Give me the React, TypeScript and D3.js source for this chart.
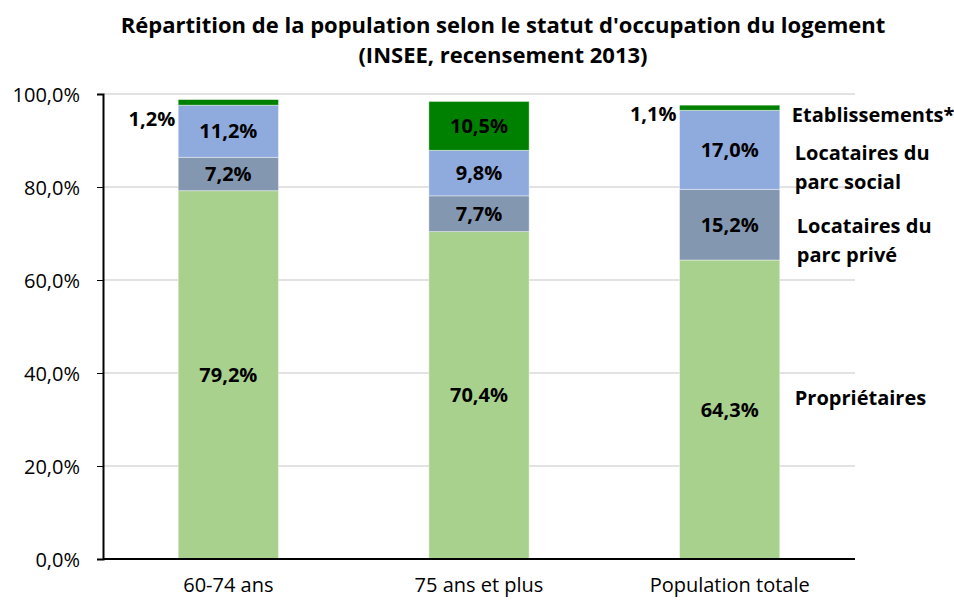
import React, { useEffect, useRef } from "react";
import * as d3 from "d3";

const categories = ["60-74 ans", "75 ans et plus", "Population totale"];
const seriesNames = [
  "Propriétaires",
  "Locataires du parc privé",
  "Locataires du parc social",
  "Etablissements*",
];
const proprietaires = [79.2, 70.4, 64.3];
const locPrive = [7.2, 7.7, 15.2];
const locSocial = [11.2, 9.8, 17.0];
const etablissements = [1.2, 10.5, 1.1];
const yTicks = [0, 20, 40, 60, 80, 100];
const legendLines = [["Propriétaires"], ["Locataires du", "parc privé"], ["Locataires du", "parc social"], ["Etablissements*"]];
const colors = ["#a9d18e", "#8497b0", "#8faadc", "#008000"];

const fmt = (v: number) => v.toFixed(1).replace(".", ",") + "%";

const App = () => {
  const ref = useRef<SVGSVGElement>(null);

  useEffect(() => {
    const svg = d3.select(ref.current);
    svg.selectAll("*").remove();
    const font = "'Open Sans', sans-serif";
    const margin = { left: 103, right: 99, top: 94, bottom: 41 };
    const width = 954, height = 600;

    const x = d3.scaleBand().domain(categories).range([margin.left, width - margin.right]).paddingInner(0.6).paddingOuter(0.3);
    const y = d3.scaleLinear().domain([0, 100]).range([height - margin.bottom, margin.top]);

    // title
    svg.append("text").attr("x", 503).attr("y", 33).attr("text-anchor", "middle")
      .style("font", `bold 22px ${font}`).text("Répartition de la population selon le statut d'occupation du logement");
    svg.append("text").attr("x", 503).attr("y", 63).attr("text-anchor", "middle")
      .style("font", `bold 22px ${font}`).text("(INSEE, recensement 2013)");

    // grid
    svg.append("g").selectAll("line").data(yTicks.filter((t) => t > 0)).join("line")
      .attr("x1", margin.left).attr("x2", width - margin.right)
      .attr("y1", (d) => y(d)).attr("y2", (d) => y(d))
      .attr("stroke", "#d9d9d9").attr("stroke-width", 1.5);

    const rows = categories.map((c, i) => ({
      cat: c,
      vals: [proprietaires[i], locPrive[i], locSocial[i], etablissements[i]],
    }));
    const stacked = d3.stack<any>().keys([0, 1, 2, 3] as any).value((d: any, k: any) => d.vals[k])(rows);

    // small labels sit left of the bar, below its top
    const smallDrop = [26, 20, 16];

    stacked.forEach((layer, si) => {
      svg.append("g").selectAll("rect").data(layer).join("rect")
        .attr("x", (d: any) => x(d.data.cat)!)
        .attr("width", x.bandwidth())
        .attr("y", (d) => y(d[1]))
        .attr("height", (d) => y(d[0]) - y(d[1]))
        .attr("fill", colors[si])
        .attr("stroke", "#ffffff").attr("stroke-opacity", 0.5).attr("stroke-width", 0.8);

      layer.forEach((d: any, ci: number) => {
        const v = d[1] - d[0];
        const small = v < 3;
        svg.append("text")
          .attr("x", small ? x(d.data.cat)! - 3 : x(d.data.cat)! + x.bandwidth() / 2)
          .attr("y", small ? y(d[1]) + smallDrop[ci] : (y(d[0]) + y(d[1])) / 2 + 7)
          .attr("text-anchor", small ? "end" : "middle")
          .style("font", `bold 20px ${font}`).attr("fill", "#000")
          .text(fmt(v));
      });
    });

    // series labels at right (baseline of first line, in data units)
    const last = categories.length - 1;
    const lx = x(categories[last])! + x.bandwidth() + 15;
    const anchors = [33.2, 70.2, 85.9, 93.9];
    const dxs = [0, 2, 0, -3];
    seriesNames.forEach((name, si) => {
      const lines = legendLines[si];
      const t = svg.append("text").attr("data-name", name).style("font", `bold 20px ${font}`).attr("fill", "#000");
      lines.forEach((ln, li) => {
        t.append("tspan").attr("x", lx + dxs[si])
          .attr("y", y(anchors[si]) + li * 29)
          .text(ln);
      });
    });

    // y axis
    const yAxis = svg.append("g").attr("transform", `translate(${margin.left},0)`)
      .call(d3.axisLeft(y).tickValues(yTicks).tickSize(6).tickFormat((d) => fmt(+d)));
    yAxis.select(".domain").attr("stroke", "#000").attr("stroke-width", 2);
    yAxis.selectAll(".tick line").attr("stroke", "#000");
    yAxis.selectAll(".tick text").attr("x", -23).attr("dy", "0.35em").style("font", `20px ${font}`).attr("fill", "#000");

    // x axis
    const xAxis = svg.append("g").attr("transform", `translate(0,${y(0)})`)
      .call(d3.axisBottom(x).tickSize(0).tickSizeOuter(0));
    xAxis.select(".domain").attr("stroke", "#000").attr("stroke-width", 2)
      .attr("d", `M${margin.left},0H${width - margin.right}`);
    xAxis.selectAll(".tick text").attr("y", 33).attr("dy", 0).style("font", `20px ${font}`).attr("fill", "#000");
  }, []);

  return <svg ref={ref} width={954} height={600} style={{ position: "absolute", left: 0, top: 0, background: "#fff" }} />;
};

export default App;
